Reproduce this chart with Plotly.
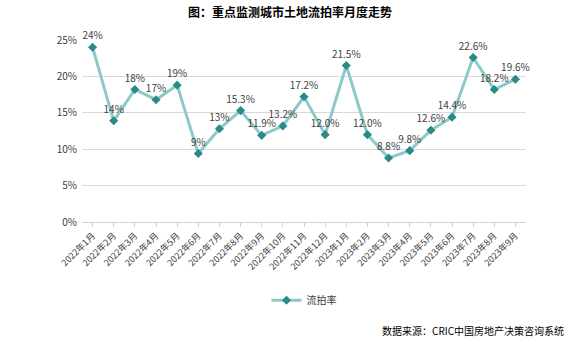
import plotly.graph_objects as go

months = ["2022年1月", "2022年2月", "2022年3月", "2022年4月", "2022年5月", "2022年6月",
          "2022年7月", "2022年8月", "2022年9月", "2022年10月", "2022年11月", "2022年12月",
          "2023年1月", "2023年2月", "2023年3月", "2023年4月", "2023年5月", "2023年6月",
          "2023年7月", "2023年8月", "2023年9月"]
rates = [24.0, 13.9, 18.2, 16.8, 18.8, 9.4, 12.8, 15.3, 11.9, 13.2, 17.2, 12.0,
         21.5, 12.0, 8.8, 9.8, 12.6, 14.4, 22.6, 18.2, 19.6]
labels = ["24%", "14%", "18%", "17%", "19%", "9%", "13%", "15.3%", "11.9%", "13.2%",
          "17.2%", "12.0%", "21.5%", "12.0%", "8.8%", "9.8%", "12.6%", "14.4%",
          "22.6%", "18.2%", "19.6%"]
y_ticks = [0, 5, 10, 15, 20, 25]

FONT = "Noto Sans CJK SC, sans-serif"

fig = go.Figure()
fig.add_trace(go.Scatter(
    x=months, y=rates, mode="lines+markers+text", name="流拍率",
    text=labels, textposition="top center", cliponaxis=False,
    textfont=dict(family=FONT, size=10, color="#404040"),
    line=dict(color="#8ec9c9", width=3),
    marker=dict(symbol="diamond", size=7, color="#2a8a8a"),
))

fig.update_layout(
    width=580, height=344,
    margin=dict(l=82, r=54, t=40, b=122),
    paper_bgcolor="white", plot_bgcolor="white",
    title=dict(text="<b>图：重点监测城市土地流拍率月度走势</b>", x=0.5, xanchor="center",
               y=0.975, yanchor="top", font=dict(family=FONT, size=12, color="#000000")),
    showlegend=True,
    legend=dict(orientation="h", x=0.5, xanchor="center", y=-0.35, yanchor="top",
                font=dict(family=FONT, size=10, color="#404040")),
    font=dict(family=FONT),
)
fig.update_xaxes(
    type="category", range=[-0.5, len(months) - 0.5],
    tickangle=-45, tickfont=dict(family=FONT, size=9, color="#404040"),
    showline=True, linecolor="#d0d0d0", ticks="outside", tickcolor="#d0d0d0", ticklen=4,
    showgrid=False,
)
fig.update_yaxes(
    range=[0, 25], tickvals=y_ticks, ticktext=[f"{v}%" for v in y_ticks],
    tickfont=dict(family=FONT, size=10, color="#404040"), ticklabelstandoff=4,
    showgrid=True, gridcolor="#d9d9d9", zeroline=False, showline=False,
)
fig.add_annotation(text="数据来源：CRIC中国房地产决策咨询系统", xref="paper", yref="paper",
                   x=1.09, y=-0.545, xanchor="right", yanchor="top", showarrow=False,
                   font=dict(family=FONT, size=10, color="#000000"))

fig.write_html("out.html")
